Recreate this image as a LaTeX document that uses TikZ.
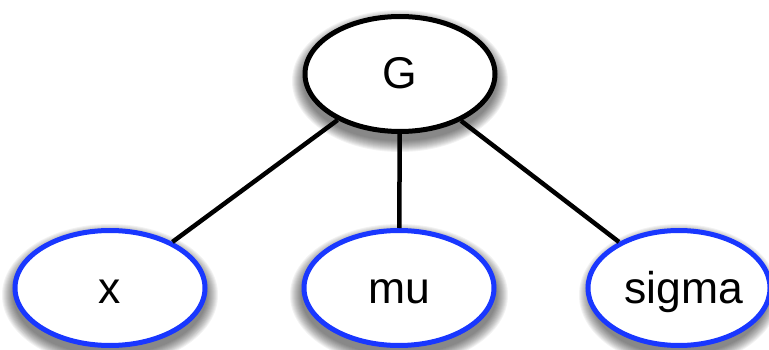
\documentclass[tikz,border=0pt]{standalone}
\usepackage{fontspec}
\setmainfont{Liberation Sans}
\usetikzlibrary{shapes.geometric}
\definecolor{nodeblue}{RGB}{25,55,255}
\begin{document}
\begin{tikzpicture}[x=1pt,y=-1pt,
  base/.style={ellipse, line width=5pt, fill=white, minimum width=190pt, minimum height=115pt, inner sep=0pt, text height=32pt, text depth=2pt, font=\fontsize{44.5}{52}\selectfont},
  root/.style={base, draw=black},
  leaf/.style={base, draw=nodeblue},
  edge/.style={line width=4.5pt, black},
  shade/.style={black, opacity=0.05}]
\useasboundingbox (0,0) rectangle (769,350);
% soft shadows
\foreach \cx/\cy/\rx/\ry in {400/74/97/60, 110/288/97/60, 399/288/98/60, 679/288/89/60} {
  \foreach \i in {0,...,11} {
    \fill[shade] (\cx, \cy+7) ellipse ({\rx+11-\i} and {\ry+11-\i});
  }
}
\node[root] (G) at (400,74) {G};
\node[leaf] (x) at (110,288) {x};
\node[leaf] (mu) at (399,288) {mu};
\node[leaf, minimum width=173pt] (sigma) at (679,288) {\hspace*{10pt}sigma};
\draw[edge] (G) -- (x);
\draw[edge] (G) -- (mu);
\draw[edge] (G) -- (sigma);
\end{tikzpicture}
\end{document}
